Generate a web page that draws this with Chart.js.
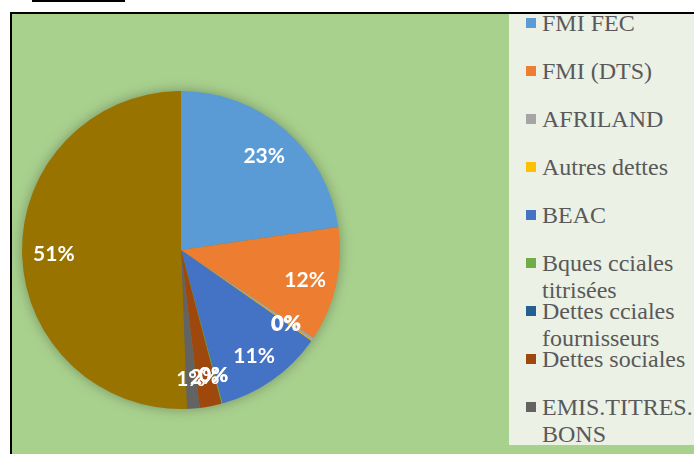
<!DOCTYPE html>
<html>
<head>
<meta charset="utf-8">
<script src="https://cdn.jsdelivr.net/npm/chart.js@4"></script>
<style>
  html, body { margin:0; padding:0; background:#ffffff; width:694px; height:454px; overflow:hidden; }
  #frame { position:absolute; left:10px; top:12px; width:690px; height:450px; border-top:2px solid #000; border-left:2px solid #000; background:#a9d18e; }
  #underline { position:absolute; left:32px; top:0px; width:93px; height:2px; background:#000; }
  #chart { position:absolute; left:12px; top:14px; }
  #legend { position:absolute; left:509px; top:14px; width:185px; height:431px; background:#ebf1e5; overflow:hidden; }
  .item { position:absolute; left:0; width:185px; font-family:"Liberation Serif","Times New Roman",serif; font-size:24px; line-height:27px; color:#595959; }
  .box { position:absolute; left:17px; top:8px; width:10px; height:10px; }
  .txt { position:absolute; left:33px; width:152px; white-space:normal; }
</style>
</head>
<body>
<div id="underline"></div>
<div id="frame"></div>
<canvas id="chart" width="682" height="440"></canvas>
<div id="legend"></div>
<script>
const categories = [
  "FMI FEC", "FMI (DTS)", "AFRILAND", "Autres dettes", "BEAC",
  "Bques cciales titrisées", "Dettes cciales fournisseurs", "Dettes sociales",
  "EMIS.TITRES. BONS", "Autres titres"
];
const shares = [22.7, 11.6, 0.3, 0.1, 11.1, 0.1, 0.02, 2.2, 1.3, 50.58];
const colors = [
  "#5b9bd5", "#ed7d31", "#a5a5a5", "#ffc000", "#4472c4",
  "#70ad47", "#255e91", "#9e480e", "#636363", "#997300"
];

// Legend (HTML, built from the arrays)
const legend = document.getElementById('legend');
categories.forEach((name, i) => {
  const it = document.createElement('div');
  it.className = 'item';
  it.style.top = (23 + i * 48.1 - 13.5 - 14) + 'px';
  const b = document.createElement('div');
  b.className = 'box';
  b.style.background = colors[i];
  const t = document.createElement('div');
  t.className = 'txt';
  t.textContent = name;
  it.appendChild(b); it.appendChild(t);
  legend.appendChild(it);
});

const shadowPlugin = {
  id: 'pieShadow',
  beforeDatasetsDraw(chart) {
    const arc = chart.getDatasetMeta(0).data[0];
    if (!arc) return;
    const {x, y, outerRadius} = arc.getProps(['x','y','outerRadius'], true);
    const ctx = chart.ctx;
    ctx.save();
    ctx.shadowColor = 'rgba(0,0,0,0.35)';
    ctx.shadowBlur = 14;
    ctx.beginPath();
    ctx.arc(x, y, outerRadius - 1, 0, Math.PI * 2);
    ctx.fillStyle = '#997300';
    ctx.fill();
    ctx.restore();
  }
};

const labelPlugin = {
  id: 'pctLabels',
  afterDatasetsDraw(chart) {
    const ctx = chart.ctx;
    const ds = chart.data.datasets[0];
    const total = ds.data.reduce((a, b) => a + b, 0);
    ctx.save();
    ctx.fillStyle = '#ffffff';
    ctx.font = 'bold 21px Lato, "Open Sans", sans-serif';
    ctx.textAlign = 'center';
    ctx.textBaseline = 'middle';
    chart.getDatasetMeta(0).data.forEach((arc, i) => {
      const p = arc.getProps(['x','y','startAngle','endAngle','outerRadius'], true);
      const mid = (p.startAngle + p.endAngle) / 2;
      const r = p.outerRadius * 0.8;
      const pct = Math.round(ds.data[i] / total * 100) + '%';
      ctx.fillText(pct, p.x + Math.cos(mid) * r, p.y + Math.sin(mid) * r + 2);
    });
    ctx.restore();
  }
};

new Chart(document.getElementById('chart'), {
  type: 'pie',
  data: {
    labels: categories,
    datasets: [{
      data: shares,
      backgroundColor: colors,
      borderWidth: 0
    }]
  },
  options: {
    responsive: false,
    animation: false,
    layout: { padding: { left: 10, top: 77, right: 354, bottom: 45 } },
    plugins: {
      legend: { display: false },
      tooltip: { enabled: false }
    }
  },
  plugins: [shadowPlugin, labelPlugin]
});
</script>
</body>
</html>
